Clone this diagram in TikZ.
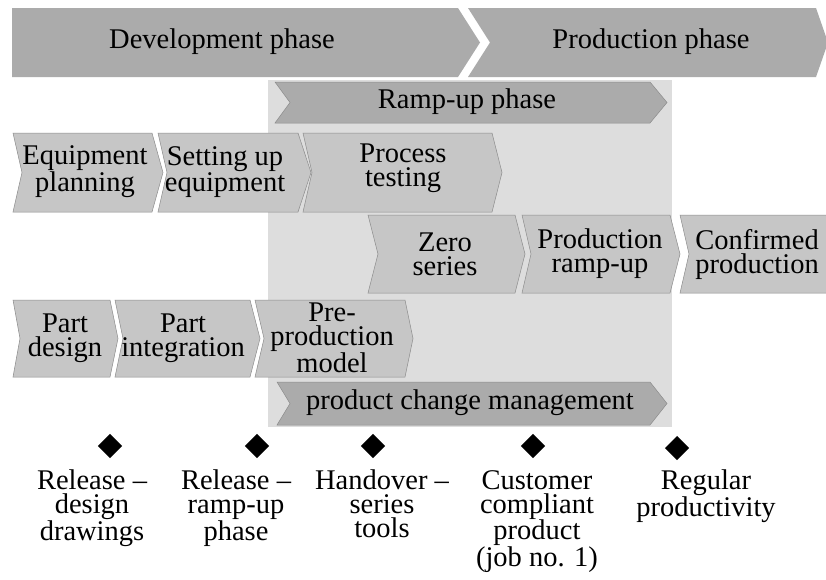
\documentclass[tikz,border=0pt]{standalone}
\usepackage{fontspec}
\setmainfont{Liberation Serif}
\definecolor{darkband}{HTML}{ABABAB}
\definecolor{lightchev}{HTML}{C6C6C6}
\definecolor{bgarea}{HTML}{DDDDDD}
\definecolor{edgegray}{HTML}{8C8C8C}
\newcommand{\chevron}[7]{%
  \path[#1] (#2,-#4) -- (#3,-#4) -- ({#3+#7},{-(#4+#5)/2}) -- (#3,-#5) -- (#2,-#5) -- ({#2+#6},{-(#4+#5)/2}) -- cycle;}
\tikzset{
  bandshape/.style={fill=darkband},
  darkchev/.style={fill=darkband, draw=edgegray, line width=0.5pt},
  stepchev/.style={fill=lightchev, draw=edgegray, line width=0.5pt},
  lbl/.style={align=center, inner sep=0pt, font=\fontsize{28.5}{24}\selectfont},
  milestone/.style={fill=black, inner sep=0pt, minimum size=17pt, rotate=45},
}
\begin{document}
\begin{tikzpicture}[x=1pt,y=1pt]
\useasboundingbox (0,0) rectangle (826,-579);
\fill[white] (0,0) rectangle (826,-579);
% ramp-up background area
\fill[bgarea] (268,-80) rectangle (672,-427);
% top band
\chevron{bandshape}{12}{458}{8}{77}{0}{22}
\chevron{bandshape}{468}{816}{8}{77}{22}{12}
\node[lbl] (dev) at (222,-42) {Development phase};
\node[lbl] (prod) at (651,-42) {Production phase};
% ramp-up phase
\chevron{darkchev}{275}{650}{82}{123}{15}{17}
\node[lbl] (ramp) at (467,-102) {Ramp-up phase};
% row 2
\chevron{stepchev}{13}{152}{133}{212}{9}{11}
\chevron{stepchev}{158}{298}{133}{212}{9}{13}
\chevron{stepchev}{303}{492}{133}{212}{9}{10}
\node[lbl] (eqp) at (85,-172) {Equipment\\planning};
\node[lbl] (setup) at (225,-172) {Setting up\\equipment};
\node[lbl] (proc) at (403,-168) {Process\\testing};
% row 3
\chevron{stepchev}{368}{515}{215}{293}{10}{10}
\chevron{stepchev}{522}{670}{215}{293}{9}{10}
\chevron{stepchev}{680}{834}{215}{293}{9}{10}
\node[lbl] (zero) at (445,-254) {Zero\\series};
\node[lbl] (pramp) at (600,-254) {Production\\ramp-up};
\node[lbl] (conf) at (757,-254) {Confirmed\\production};
% row 4
\chevron{stepchev}{13}{110}{300}{377}{7}{8}
\chevron{stepchev}{115}{250}{300}{377}{8}{10}
\chevron{stepchev}{255}{405}{300}{377}{9}{8}
\node[lbl] (pdes) at (65,-338) {Part\\design};
\node[lbl] (pint) at (183,-338) {Part\\integration};
\node[lbl] (ppm) at (332,-338) {Pre-\\production\\model};
% product change management
\chevron{darkchev}{277}{650}{382}{425}{13}{17}
\node[lbl] (pcm) at (470,-403) {product change management};
% milestones
\node[milestone] (m1) at (110,-446) {};
\node[milestone] (m2) at (257,-446) {};
\node[milestone] (m3) at (373,-446) {};
\node[milestone] (m4) at (533,-446) {};
\node[milestone] (m5) at (677,-448) {};
\node[lbl, anchor=north] (t1) at (92,-470) {Release --\\design\\drawings};
\node[lbl, anchor=north] (t2) at (236,-470) {Release --\\ramp-up\\phase};
\node[lbl, anchor=north] (t3) at (382,-470) {Handover --\\series\\tools};
\node[lbl, anchor=north] (t4) at (537,-470) {Customer\\compliant\\product\\(job no. 1)};
\node[lbl, anchor=north] (t5) at (706,-470) {Regular\\productivity};
\end{tikzpicture}
\end{document}
